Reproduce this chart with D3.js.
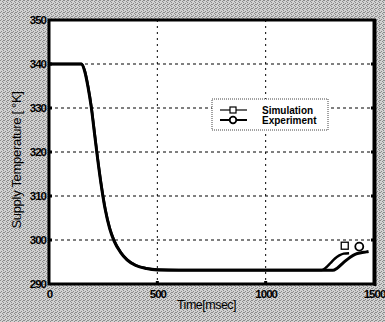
<!DOCTYPE html>
<html>
<head>
<meta charset="utf-8">
<script src="https://cdn.jsdelivr.net/npm/d3@7"></script>
<style>
  body { margin: 0; background: #bdbdbd; }
  text { font-family: "Liberation Sans", Arial, sans-serif; }
</style>
</head>
<body>
<div class="canvas"></div>
<script>
// data (time in msec, temperature in K)
var simTime = [0, 150, 165, 180, 195, 210, 225, 240, 260, 280, 300, 330, 360, 400, 450, 500, 600, 800, 1000, 1200, 1260, 1280, 1300, 1320, 1340, 1360, 1385]
var simTemp = [340, 340, 338.5, 335, 330.5, 324.5, 318.5, 313, 307, 302.8, 300, 297.3, 295.6, 294.3, 293.6, 293.3, 293.2, 293.2, 293.2, 293.2, 293.2, 293.8, 294.8, 295.8, 296.5, 296.9, 297]
var expTime = [0, 150, 165, 180, 195, 210, 225, 240, 260, 280, 300, 330, 360, 400, 450, 500, 600, 800, 1000, 1200, 1310, 1330, 1360, 1390, 1415, 1440, 1465, 1475]
var expTemp = [340, 340, 338.3, 334.8, 330.2, 324.2, 318.2, 312.8, 306.8, 302.6, 299.8, 297.2, 295.5, 294.2, 293.5, 293.2, 293.1, 293.1, 293.1, 293.1, 293.1, 293.6, 294.9, 296.1, 296.8, 297.1, 297.3, 297.4]
var simMarker = [1365, 298.7]
var expMarker = [1432, 298.5]
var xTicks = [0, 500, 1000, 1500]
var yTicks = [290, 300, 310, 320, 330, 340, 350]
var seriesNames = ["Simulation", "Experiment"]

var W = 385, H = 322
var svg = d3.select(".canvas").append("svg").attr("width", W).attr("height", H)

// dithered grey paper look
var pat = svg.append("defs").append("pattern")
    .attr("id", "dots").attr("width", 4).attr("height", 4)
    .attr("patternUnits", "userSpaceOnUse")
pat.append("rect").attr("width", 4).attr("height", 4).attr("fill", "#d2d2d2")
var dotPos = [[0, 0], [2, 1], [1, 3], [3, 2], [3, 0]]
pat.selectAll("rect.d").data(dotPos).join("rect").attr("class", "d")
    .attr("x", d => d[0]).attr("y", d => d[1]).attr("width", 1).attr("height", 1)
    .attr("fill", "#8c8c8c")
svg.append("rect").attr("width", W).attr("height", H).attr("fill", "url(#dots)")

var pLeft = 49, pRight = 374, pTop = 20, pBottom = 284

var x = d3.scaleLinear().domain([0, 1500]).range([pLeft, pRight])
var y = d3.scaleLinear().domain([290, 350]).range([pBottom, pTop])

// plot area
svg.append('rect')
    .attr('x', pLeft).attr('y', pTop)
    .attr('width', pRight - pLeft).attr('height', pBottom - pTop)
    .attr('fill', 'white')

// dashed grid
svg.append('g').selectAll('line').data(xTicks.slice(1, -1)).join('line')
    .attr('x1', d => x(d)).attr('x2', d => x(d))
    .attr('y1', pTop).attr('y2', pBottom)
    .attr('stroke', 'black').attr('stroke-width', 1)
    .attr('stroke-dasharray', '2,4')
svg.append('g').selectAll('line').data(yTicks.slice(1, -1)).join('line')
    .attr('x1', pLeft).attr('x2', pRight)
    .attr('y1', d => y(d)).attr('y2', d => y(d))
    .attr('stroke', 'black').attr('stroke-width', 1)
    .attr('stroke-dasharray', '3,3')

// curves
var line = d3.line().x(d => x(d[0])).y(d => y(d[1])).curve(d3.curveMonotoneX)
var simData = d3.zip(simTime, simTemp)
var expData = d3.zip(expTime, expTemp)
svg.append('path').datum(expData).attr('d', line)
    .attr('fill', 'none').attr('stroke', 'black').attr('stroke-width', 3)
svg.append('path').datum(simData).attr('d', line)
    .attr('fill', 'none').attr('stroke', 'black').attr('stroke-width', 2.5)

// markers
svg.append('rect')
    .attr('x', x(simMarker[0]) - 3.5).attr('y', y(simMarker[1]) - 3.5)
    .attr('width', 7).attr('height', 7)
    .attr('fill', 'white').attr('stroke', 'black').attr('stroke-width', 1.3)
svg.append('circle')
    .attr('cx', x(expMarker[0])).attr('cy', y(expMarker[1])).attr('r', 4)
    .attr('fill', 'white').attr('stroke', 'black').attr('stroke-width', 1.8)

// axes
svg.append('g').attr('transform', 'translate(0,' + pBottom + ')')
    .call(d3.axisBottom(x).tickValues(xTicks).tickSize(0).tickPadding(6).tickFormat(d3.format('d')))
svg.append('g').attr('transform', 'translate(' + pLeft + ',0)')
    .call(d3.axisLeft(y).tickValues(yTicks).tickSize(0).tickPadding(3))
svg.selectAll('.domain').remove()
svg.selectAll('.tick text')
    .attr('font-family', '"Liberation Sans", Arial, sans-serif')
    .attr('font-size', 11.5).attr('font-weight', 'bold')
    .attr('letter-spacing', -1).attr('fill', 'black')

// small tick bumps on the frame
svg.append('g').selectAll('rect').data(yTicks.slice(1, -1)).join('rect')
    .attr('x', pLeft).attr('y', d => y(d) - 1.5).attr('width', 3).attr('height', 3).attr('fill', 'black')
svg.append('g').selectAll('rect').data(yTicks.slice(1, -1)).join('rect')
    .attr('x', pRight - 3).attr('y', d => y(d) - 1.5).attr('width', 3).attr('height', 3).attr('fill', 'black')
svg.append('g').selectAll('rect').data(xTicks.slice(1, -1)).join('rect')
    .attr('x', d => x(d) - 1.5).attr('y', pBottom - 3).attr('width', 3).attr('height', 3).attr('fill', 'black')

// thick frame
svg.append('path')
    .attr('d', 'M' + pLeft + ',' + pTop + 'H' + pRight + 'V' + pBottom + 'H' + pLeft + 'Z')
    .attr('fill', 'none').attr('stroke', 'black').attr('stroke-width', 3)
svg.append('line')
    .attr('x1', pRight + 1).attr('x2', pRight + 1).attr('y1', pTop - 1).attr('y2', pBottom + 2)
    .attr('stroke', 'black').attr('stroke-width', 3)

// axis titles
svg.append('text')
    .attr('x', (pLeft + pRight) / 2 - 5).attr('y', 309)
    .attr('text-anchor', 'middle')
    .attr('font-size', 12.5).attr('letter-spacing', -0.5)
    .text('Time[msec]')
svg.append('text')
    .attr('transform', 'translate(21,160) rotate(-90)')
    .attr('text-anchor', 'middle')
    .attr('font-size', 13).attr('letter-spacing', -0.3)
    .text('Supply Temperature [ °K]')

// legend
var lg = svg.append('g').attr('transform', 'translate(212,99)')
lg.append('rect').attr('width', 116).attr('height', 31)
    .attr('fill', 'white').attr('stroke', '#444').attr('stroke-width', 1)
    .attr('stroke-dasharray', '1,1')
lg.append('line').attr('x1', 8).attr('x2', 35).attr('y1', 11).attr('y2', 11)
    .attr('stroke', 'black').attr('stroke-width', 1.2)
lg.append('rect').attr('x', 18).attr('y', 8).attr('width', 6).attr('height', 6)
    .attr('fill', 'white').attr('stroke', 'black').attr('stroke-width', 1.2)
lg.append('line').attr('x1', 8).attr('x2', 35).attr('y1', 21).attr('y2', 21)
    .attr('stroke', 'black').attr('stroke-width', 2)
lg.append('circle').attr('cx', 21).attr('cy', 21).attr('r', 3.3)
    .attr('fill', 'white').attr('stroke', 'black').attr('stroke-width', 1.8)
lg.selectAll('text.lab').data(seriesNames).join('text')
    .attr('class', 'lab')
    .attr('x', 50).attr('y', (d, i) => 15 + i * 10)
    .attr('font-size', 10).attr('font-weight', 'bold')
    .text(d => d)
</script>
</body>
</html>
